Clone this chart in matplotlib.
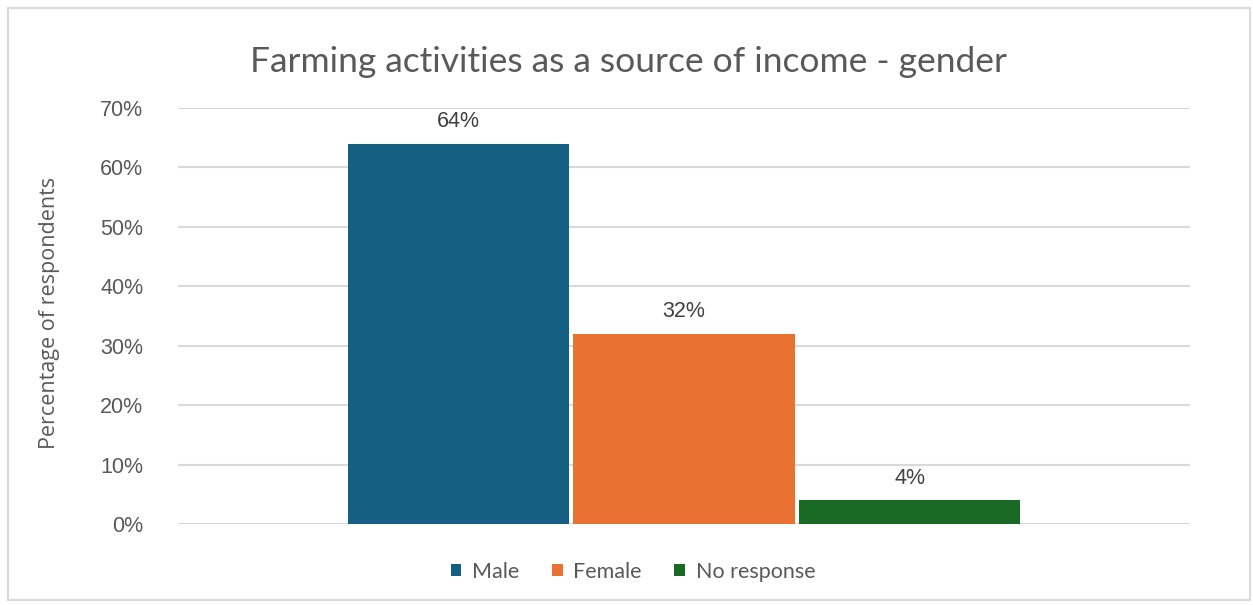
import matplotlib.pyplot as plt
from matplotlib.patches import Rectangle
from matplotlib.ticker import PercentFormatter

# Survey responses: share of respondents citing farming as a source of income
categories = ["Male", "Female", "No response"]
shares = [64, 32, 4]
colors = ["#156082", "#E97132", "#196B24"]
y_ticks = [0, 10, 20, 30, 40, 50, 60, 70]

title = "Farming activities as a source of income - gender"
y_label = "Percentage of respondents"

fig = plt.figure(figsize=(12.53, 6.05), dpi=100)
fig.patch.set_facecolor("white")

# Light frame around the whole chart
fig.add_artist(Rectangle((8 / 1253, 5 / 605), 1242 / 1253, 592 / 605,
                         transform=fig.transFigure, fill=False,
                         edgecolor="#d9d9d9", linewidth=1.5))

ax = fig.add_axes([178 / 1253, 1 - 524 / 605, (1190 - 178) / 1253, (524 - 108) / 605])

step = 0.2233
width = 0.2184
n = len(categories)
for i, (cat, val, col) in enumerate(zip(categories, shares, colors)):
    x = (i - (n - 1) / 2) * step
    ax.bar(x, val, width=width, color=col, label=cat, zorder=3)
    ax.text(x, val + 3.7, f"{val}%", ha="center", va="center",
            fontsize=15.5, color="#404040", family="Liberation Sans")

ax.set_xlim(-0.5, 0.5)
ax.set_ylim(0, 70)
ax.set_yticks(y_ticks)
ax.yaxis.set_major_formatter(PercentFormatter(decimals=0))
ax.set_xticks([])
ax.grid(axis="y", color="#d9d9d9", linewidth=1.5, zorder=0)
for s in ax.spines.values():
    s.set_visible(False)
ax.tick_params(axis="y", length=0, pad=25, labelsize=15.5, labelcolor="#595959")
for lab in ax.get_yticklabels():
    lab.set_family("Liberation Sans")

fig.text(50 / 1253, 1 - 313 / 605, y_label, rotation=90, ha="center", va="center",
         fontsize=15.5, color="#595959", family="Open Sans")
fig.text(629 / 1253, 1 - 62 / 605, title, ha="center", va="center",
         fontsize=25.5, color="#595959", family="Lato")

leg = fig.legend(loc="center", bbox_to_anchor=(633 / 1253, 1 - 572 / 605), ncol=3,
                 frameon=False, handlelength=0.5, handleheight=0.5,
                 handletextpad=0.5, columnspacing=1.5,
                 prop={"family": "Lato", "size": 15.5})
for t in leg.get_texts():
    t.set_color("#595959")

fig.savefig("out.png", dpi=100, facecolor="white")
